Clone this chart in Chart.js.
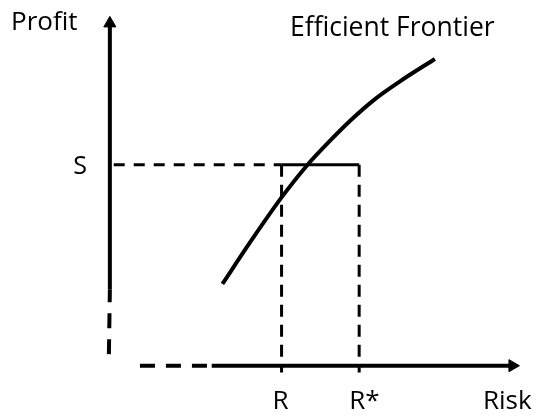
<!DOCTYPE html>
<html>
<head>
<meta charset="utf-8">
<script src="https://cdn.jsdelivr.net/npm/chart.js@4.4.1/dist/chart.umd.min.js"></script>
<style>
    html, body { margin: 0; padding: 0; background: #fff; }
    #wrap { width: 535px; height: 416px; }
</style>
</head>
<body>
<div id="wrap"><canvas id="frontierChart"></canvas></div>
<script>
// Risk (x) and profit (y) values, measured from where the two axes meet
const frontierRisk   = [116, 145, 177, 203, 228, 248, 273, 298, 335];
const frontierProfit = [85, 129, 175, 208, 235, 255, 277, 295, 319];

// marked levels
const riskLevels = [177, 257];        // R, R*
const riskLabels = ['R', 'R*'];
const profitLevel = 209;              // S
const profitLabel = 'S';

// axis extents
const yAxisSolid  = [79, 356];
const yAxisDashed = [12, 79];
const xAxisDashed = [31, 105];
const xAxisSolid  = [105, 415];
const dropBottom  = -7;

const axisTitles = ['Risk', 'Profit'];
const curveTitle = 'Efficient Frontier';

function seg(x1, y1, x2, y2, dash, width) {
    return {
        data: [{ x: x1, y: y1 }, { x: x2, y: y2 }],
        showLine: true,
        borderColor: '#000',
        borderWidth: width,
        borderDash: dash,
        borderCapStyle: 'butt',
        pointRadius: 0
    };
}

// Draw the text labels next to the marks
const textPlugin = {
    id: 'diagramText',
    afterDatasetsDraw(chart) {
        const { ctx, scales: { x, y } } = chart;
        const x0 = x.getPixelForValue(0);
        const y0 = y.getPixelForValue(0);
        ctx.save();
        ctx.fillStyle = '#000';
        ctx.font = '26px "Open Sans"';
        ctx.textBaseline = 'alphabetic';

        ctx.textAlign = 'left';
        ctx.fillText(axisTitles[1], 11, 30);
        ctx.font = '26.5px "Open Sans"';
        ctx.fillText(curveTitle, 290, 36);
        ctx.font = '26px "Open Sans"';
        ctx.fillText(riskLabels[0], x.getPixelForValue(riskLevels[0]) - 9, y0 + 43);
        ctx.fillText(riskLabels[1], x.getPixelForValue(riskLevels[1]) - 10, y0 + 43);
        ctx.fillText(axisTitles[0], 483, y0 + 43);

        ctx.textAlign = 'right';
        ctx.font = '25px "Open Sans"';
        ctx.fillText(profitLabel, x0 - 23, y.getPixelForValue(profitLevel) + 9);
        ctx.restore();
    }
};

const datasets = [
    // frontier curve
    {
        data: frontierRisk.map((r, i) => ({ x: r, y: frontierProfit[i] })),
        showLine: true,
        borderColor: '#000',
        borderWidth: 4,
        cubicInterpolationMode: 'monotone',
        pointRadius: 0
    },
    // axes
    seg(0, yAxisSolid[0], 0, yAxisSolid[1], [], 4),
    seg(-1, yAxisDashed[0], 0, yAxisDashed[1], [15, 11], 4),
    seg(xAxisDashed[0], 0, xAxisDashed[1], 0, [15, 11], 4),
    seg(xAxisSolid[0], 0, xAxisSolid[1], 0, [], 4),
    // S level
    seg(4, profitLevel, riskLevels[0], profitLevel, [11, 9], 3),
    seg(riskLevels[0], profitLevel, riskLevels[1], profitLevel, [], 3),
    // R and R* drops
    seg(riskLevels[0], profitLevel, riskLevels[0], dropBottom, [12, 8], 3),
    seg(riskLevels[1], profitLevel, riskLevels[1], dropBottom, [12, 8], 3),
    // arrow heads
    {
        data: [{ x: 0, y: yAxisSolid[1] }],
        pointStyle: 'triangle',
        pointRadius: 7,
        pointRotation: 0,
        backgroundColor: '#000',
        borderColor: '#000',
        borderWidth: 1
    },
    {
        data: [{ x: xAxisSolid[1], y: 0 }],
        pointStyle: 'triangle',
        pointRadius: 7,
        pointRotation: 90,
        backgroundColor: '#000',
        borderColor: '#000',
        borderWidth: 1
    }
];

new Chart(document.getElementById('frontierChart'), {
    type: 'scatter',
    data: { datasets: datasets },
    options: {
        responsive: true,
        maintainAspectRatio: false,
        animation: false,
        layout: { padding: 0 },
        plugins: {
            legend: { display: false },
            tooltip: { enabled: false }
        },
        scales: {
            x: { type: 'linear', display: false, min: -105, max: 430 },
            y: { type: 'linear', display: false, min: -44, max: 372 }
        }
    },
    plugins: [textPlugin]
});
</script>
</body>
</html>
